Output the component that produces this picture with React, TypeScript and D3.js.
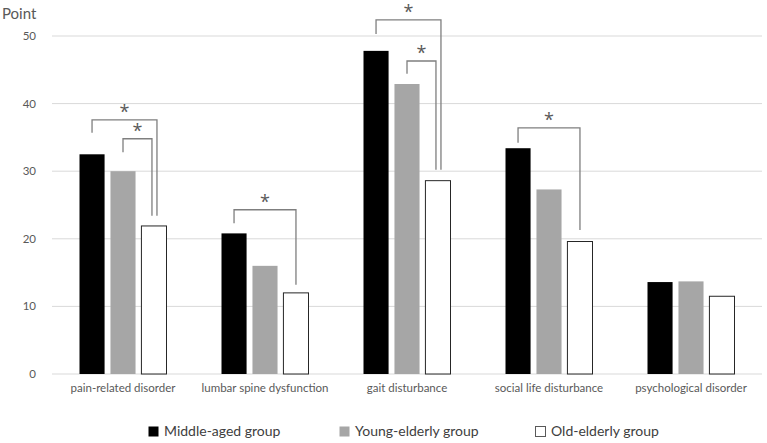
import React from 'react'
import * as d3 from 'd3'

const categories = [
  'pain-related disorder',
  'lumbar spine dysfunction',
  'gait disturbance',
  'social life disturbance',
  'psychological disorder',
]
const groups = ['Middle-aged group', 'Young-elderly group', 'Old-elderly group']

const middleAged = [32.5, 20.8, 47.8, 33.4, 13.6]
const youngElderly = [30.0, 16.0, 42.9, 27.3, 13.7]
const oldElderly = [21.9, 12.0, 28.6, 19.6, 11.5]

const yTicks = [0, 10, 20, 30, 40, 50]

// significance brackets (values in points)
const brackets = [
  { cat: 0, from: 0, to: 2, top: 37.6, fromEnd: 35.7, toEnd: 23.4, kind: 'outer' },
  { cat: 0, from: 1, to: 2, top: 34.8, fromEnd: 32.8, toEnd: 23.4, kind: 'inner' },
  { cat: 1, from: 0, to: 2, top: 24.3, fromEnd: 22.3, toEnd: 13.2, kind: 'single' },
  { cat: 2, from: 0, to: 2, top: 52.4, fromEnd: 50.3, toEnd: 30.2, kind: 'outer' },
  { cat: 2, from: 1, to: 2, top: 46.3, fromEnd: 44.4, toEnd: 30.2, kind: 'inner' },
  { cat: 3, from: 0, to: 2, top: 36.4, fromEnd: 34.2, toEnd: 21.3, kind: 'single' },
]

const W = 767
const H = 443
const font = 'Lato, "Open Sans", sans-serif'

export default function App() {
  const series = [middleAged, youngElderly, oldElderly]
  const fills = ['#000000', '#a6a6a6', '#ffffff']

  const x = d3.scaleBand().domain(categories).range([52, 762])
  const inner = d3.scaleBand().domain(groups).range([27.5, 114.5]).paddingInner(0.19)
  const y = d3.scaleLinear().domain([0, 50]).range([374, 36])

  const barCenter = (c: number, g: number) =>
    (x(categories[c]) || 0) + (inner(groups[g]) || 0) + inner.bandwidth() / 2
  const rightShift: Record<string, number> = { outer: 3, inner: -2, single: 0 }

  const legendX = [148, 339, 535]

  return (
    <div style={{ position: 'fixed', left: 0, top: 0 }}>
      <svg width={W} height={H} style={{ display: 'block', background: '#fff' }}>
        <text x={2} y={19} fontFamily={font} fontSize={15} fill="#595959">Point</text>

        {yTicks.map(t => (
          <g key={t}>
            <line x1={52} x2={762} y1={y(t)} y2={y(t)} stroke="#d9d9d9" strokeWidth={1} />
            <text x={36} y={y(t)} dy="0.35em" textAnchor="end" fontFamily={font} fontSize={11.5} fill="#595959">{t}</text>
          </g>
        ))}

        {categories.map((c, ci) => (
          <g key={c} transform={`translate(${x(c)},0)`}>
            {groups.map((g, gi) => (
              <rect
                key={g}
                x={inner(g)}
                y={y(series[gi][ci])}
                width={inner.bandwidth()}
                height={y(0) - y(series[gi][ci])}
                fill={fills[gi]}
                stroke={gi === 2 ? '#262626' : 'none'}
                strokeWidth={gi === 2 ? 1 : 0}
              />
            ))}
            <text
              x={x.bandwidth() / 2}
              y={392}
              textAnchor="middle"
              fontFamily={font}
              fontSize={11.5}
              fill="#595959"
            >{c}</text>
          </g>
        ))}

        {brackets.map((b, i) => {
          const x1 = barCenter(b.cat, b.from)
          const x2 = barCenter(b.cat, b.to) + rightShift[b.kind]
          const path = `M${x1},${y(b.fromEnd)}V${y(b.top)}H${x2}V${y(b.toEnd)}`
          return (
            <g key={i}>
              <path d={path} fill="none" stroke="#7f7f7f" strokeWidth={1.3} />
              <text
                x={(x1 + x2) / 2}
                y={y(b.top) - 2}
                textAnchor="middle"
                fontFamily='"Open Sans", sans-serif'
                fontSize={18}
                fill="#595959"
              >*</text>
            </g>
          )
        })}

        {groups.map((g, gi) => (
          <g key={g} transform={`translate(${legendX[gi]},426)`}>
            <rect
              x={0.5}
              y={0.5}
              width={10}
              height={10}
              fill={fills[gi]}
              stroke={gi === 2 ? '#595959' : 'none'}
              strokeWidth={1}
            />
            <text x={16} y={5.5} dy="0.35em" fontFamily={font} fontSize={14} fill="#404040">{g}</text>
          </g>
        ))}
      </svg>
    </div>
  )
}
